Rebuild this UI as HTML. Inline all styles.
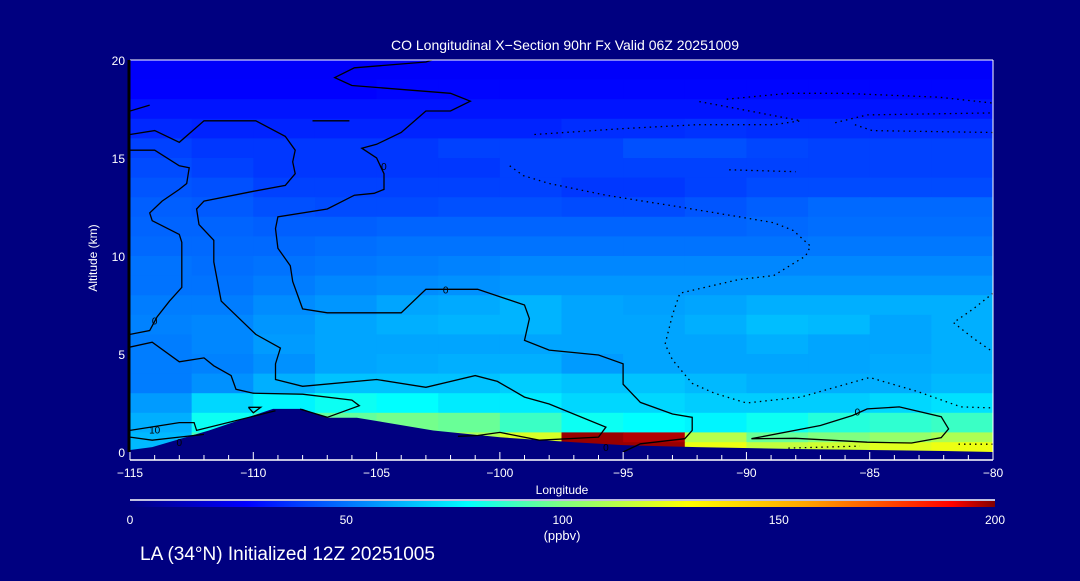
<!DOCTYPE html>
<html><head><meta charset="utf-8"><style>
body{margin:0;background:#000080;}
svg text{font-family:"Liberation Sans",sans-serif;fill:#fff;}
</style></head><body>
<svg id="chart" width="1080" height="576" viewBox="0 0 1080 576" xmlns="http://www.w3.org/2000/svg">
<rect width="1080" height="576" fill="#000080"/>
<defs>
<linearGradient id="cbar" x1="0" x2="1" y1="0" y2="0">
<stop offset="0" stop-color="#000080"/><stop offset="0.135" stop-color="#0000ff"/><stop offset="0.39" stop-color="#00ffff"/><stop offset="0.5" stop-color="#80ff80"/><stop offset="0.645" stop-color="#ffff00"/><stop offset="0.78" stop-color="#ffa500"/><stop offset="0.95" stop-color="#ff0000"/><stop offset="1" stop-color="#800000"/>
</linearGradient>
<clipPath id="plotclip"><rect x="130" y="60" width="863" height="392"/></clipPath>
</defs>
<g id="cells" clip-path="url(#plotclip)"></g>
<g id="terrain"></g>
<g id="contours" clip-path="url(#plotclip)"></g>
<g id="axes"></g>
<text x="565" y="50" font-size="14" text-anchor="middle">CO Longitudinal X−Section 90hr  Fx Valid 06Z 20251009</text>
<text x="562" y="494" font-size="12" text-anchor="middle">Longitude</text>
<text transform="translate(97,258) rotate(-90)" font-size="12" text-anchor="middle">Altitude (km)</text>
<line x1="130" y1="500" x2="995" y2="500" stroke="#fff" stroke-width="1.5"/>
<rect x="130" y="501" width="865" height="6" fill="url(#cbar)"/>
<g id="cbticks"></g>
<text x="562" y="540" font-size="13" text-anchor="middle">(ppbv)</text>
<text x="140" y="560" font-size="19">LA (34°N) Initialized 12Z 20251005</text>
</svg>
<script>
const lonCenters=[-113.75,-111.25,-108.75,-106.25,-103.75,-101.25,-98.75,-96.25,-93.75,-91.25,-88.75,-86.25,-83.75,-81.25];
const altBottoms=[19,18,17,16,15,14,13,12,11,10,9,8,7,6,5,4,3,2,1,0.5,0];
const altTops=[20,19,18,17,16,15,14,13,12,11,10,9,8,7,6,5,4,3,2,1,0.5];
const r0=[26,26,26,26,26,26,26,26,26,26,26,26,26,26];
const r1=[27,27,27,27,28,28,28,28,28,28,28,28,28,28];
const r2=[31,31,31,31,31,31,31,31,31,31,31,31,31,31];
const r3=[35,34,34,34,34,34,34,36,36,37,36,36,36,36];
const r4=[40,38,38,38,38,40,40,40,43,43,41,40,40,40];
const r5=[42,40,38,38,38,38,40,40,40,40,40,40,40,40];
const r6=[44,43,40,40,40,40,40,38,38,40,42,42,42,42];
const r7=[46,45,43,42,42,43,43,42,42,44,46,48,48,48];
const r8=[47,47,46,46,47,47,47,47,47,47,48,49,49,49];
const r9=[48,48,48,49,50,50,50,50,50,50,50,51,51,51];
const r10=[50,49,50,51,52,53,54,54,54,54,54,54,54,54];
const r11=[50,50,52,54,55,56,57,57,57,57,57,57,57,57];
const r12=[52,52,55,57,60,61,63,60,59,60,62,62,62,62];
const r13=[53,54,57,60,62,63,63,60,60,62,65,64,60,62];
const r14=[52,54,58,60,60,60,60,60,60,60,62,60,60,62];
const r15=[52,53,56,60,61,62,62,58,60,60,60,60,61,62];
const r16=[52,56,62,66,66,66,68,66,66,64,62,62,62,64];
const r17=[58,70,76,80,78,74,74,70,70,68,68,68,70,72];
const r18=[62,80,88,95,98,96,88,80,78,76,80,84,86,88];
const r19=[64,90,100,105,108,110,120,198,196,112,96,100,105,110];
const r20=[64,90,100,110,115,120,130,198,198,125,115,118,122,125];
const rows=[r0,r1,r2,r3,r4,r5,r6,r7,r8,r9,r10,r11,r12,r13,r14,r15,r16,r17,r18,r19,r20];
const terrainLon=[-115,-114.1,-111.8,-109.2,-108,-107,-105.8,-102.7,-100,-97,-95,-92,-88,-85,-82,-80];
const terrainAlt=[0.1,0.25,1.1,2.2,2.2,1.75,1.75,1.1,0.75,0.5,0.35,0.25,0.15,0.1,0.05,0];
const xTicks=[-115,-110,-105,-100,-95,-90,-85,-80];
const yTicks=[0,5,10,15,20];
const cbTicks=[0,50,100,150,200];
const solidA=[[-102.5,20.1],[-103,19.9],[-105.9,19.6],[-106.7,19.1],[-106,18.7],[-102,18.3],[-101.2,17.9],[-102,17.4],[-103,17.4],[-104,16.3],[-105,15.7],[-105.6,15.5],[-105,15],[-104.7,14.2],[-104.7,13.4],[-105.1,13.2],[-105.9,13.1],[-107,12.4],[-109,12],[-109.1,11.4],[-109,10.4],[-108.5,9.5],[-108.4,8.7],[-108,7.3],[-107,7.1],[-104,7.1],[-103,8.3],[-100.9,8.3],[-99,7.5],[-98.8,6.8],[-99,5.7],[-98,5.2],[-96,4.95],[-95,4.5],[-95,3.46],[-94.3,2.53],[-93,1.94],[-92.2,1.77],[-92.2,1.1],[-92.5,0.68],[-94.3,0.42],[-95,0]];
const solidB=[[-115,16.2],[-114,16.4],[-113,15.8],[-112,16.9],[-109.9,16.9],[-108.7,16.1],[-108.3,15.4],[-108.4,14.8],[-108.3,14.2],[-108.7,13.6],[-110,13.3],[-112,12.8],[-112.3,12.4],[-112.2,11.6],[-111.6,10.8],[-111.6,9.7],[-111.3,7.7],[-109.9,6],[-108.9,5.3],[-109.1,4.5],[-109.1,3.7],[-108,3.35],[-105,3.7],[-103,3.3],[-101,3.9],[-100.1,3.6],[-99,2.8],[-98,2.45],[-95.7,1.27],[-96,0.76],[-98.4,0.6],[-100,1.0],[-100.9,0.84],[-101.7,0.8]];
const solidC=[[-115,15.4],[-114,15.4],[-113,14.6],[-112.6,14.5],[-112.7,13.7],[-113,13.4],[-113.7,12.8],[-114.2,12.2],[-114.1,11.8],[-113,11.1],[-112.9,10.7],[-112.9,8.4],[-113.4,7.7],[-113.9,6.9],[-114.2,6.2],[-115,6]];
const solidD=[[-115,5.35],[-114.1,5.6],[-113,4.6],[-112,4.8],[-111.6,4.4],[-110.9,3.9],[-110.7,3.2],[-110,3],[-108,2.95],[-106,2.65],[-105.7,2.36],[-107,1.77],[-108.1,2.19]];
const solidE=[[-115,1.1],[-113,1.5],[-112.4,1.5],[-112.3,1.1],[-109.1,2.1]];
const solidE2=[[-115,0.76],[-114.1,0.6],[-113,0.76],[-112,0.9]];
const solidF=[[-89.8,0.68],[-87,1.35],[-85.7,1.86],[-85.1,2.2],[-83.8,2.3],[-82.1,1.8],[-81.8,1.18],[-82.1,0.73],[-83.3,0.46],[-85.1,0.5],[-88,0.7],[-89.8,0.68]];
const solidG=[[-110.2,2.28],[-109.7,2.28],[-110,2.0],[-110.2,2.28]];
const solidH=[[-107.6,16.9],[-106.1,16.9]];
const solidI=[[-115,17.4],[-114.2,17.7]];
const dot1=[[-99.6,14.6],[-99.05,14.1],[-98,13.7],[-95.7,13.1],[-92.7,12.5],[-90.3,12],[-88.9,11.7],[-88.1,11.3],[-87.4,10.5],[-87.6,10],[-88.9,9],[-90.3,8.8],[-92.7,8.1],[-93,7],[-93.3,5.5],[-93,4.7],[-92.2,3.5],[-91.3,3],[-90,2.5],[-87.8,2.8],[-85,3.8],[-83.1,3.1],[-81.3,2.3],[-80,2.25]];
const dot2=[[-98.6,16.2],[-95,16.5],[-92,16.7],[-88.9,16.7],[-87.8,16.9],[-90.3,17.5],[-92,17.9]];
const dot3=[[-90.8,18],[-88.3,18.3],[-86.1,18.3],[-82.2,18.1],[-80,17.8]];
const dot4=[[-86.4,16.8],[-85.1,17.2],[-80,17.3]];
const dot5=[[-85.6,16.7],[-84.9,16.4],[-80,16.3]];
const dot6=[[-90.7,14.4],[-88,14.3]];
const dot7=[[-80,8.1],[-80.8,7.3],[-81.6,6.6],[-80.8,5.8],[-80,5.1]];
const dot8=[[-88.3,0.2],[-85.4,0.3]];
const dot9=[[-81.4,0.4],[-80,0.4]];
const solidLines=[solidA,solidB,solidC,solidD,solidE,solidE2,solidF,solidG,solidH,solidI];
const dottedLines=[dot1,dot2,dot3,dot4,dot5,dot6,dot7,dot8,dot9];
const labelPts=[[-104.7,14.6,"0"],[-102.2,8.3,"0"],[-114,6.7,"0"],[-114,1.15,"10"],[-113,0.5,"0"],[-85.5,2.06,"0"],[-95.7,0.25,"0"]];

const NS="http://www.w3.org/2000/svg";
const X0=130,X1=993,Y0=452,Y1=60;
const xS=l=>X0+(l+115)/35*(X1-X0);
const yS=a=>Y0-a/20*(Y0-Y1);
const stops=[[0,[0,0,128]],[0.135,[0,0,255]],[0.39,[0,255,255]],[0.5,[128,255,128]],[0.645,[255,255,0]],[0.78,[255,165,0]],[0.95,[255,0,0]],[1,[128,0,0]]];
function cmap(v){const t=Math.max(0,Math.min(1,v/200));for(let i=1;i<stops.length;i++){if(t<=stops[i][0]){const a=stops[i-1],b=stops[i];const f=(t-a[0])/(b[0]-a[0]);const c=a[1].map((x,k)=>Math.round(x+(b[1][k]-x)*f));return `rgb(${c[0]},${c[1]},${c[2]})`;}}return "rgb(128,0,0)";}
function mk(tag,attrs,parent){const e=document.createElementNS(NS,tag);for(const k in attrs)e.setAttribute(k,attrs[k]);parent.appendChild(e);return e;}
const cells=document.getElementById('cells');
rows.forEach((row,ri)=>{row.forEach((v,ci)=>{
 const l=lonCenters[ci];
 const x=xS(l-1.25),w=xS(l+1.25)-x+0.6;
 const y=yS(altTops[ri]),h=yS(altBottoms[ri])-y+0.6;
 const r=mk('rect',{x:x,y:y,width:w,height:h,fill:cmap(v)},cells);
 
 
});});
const ter=document.getElementById('terrain');
let d=`M${xS(-115)},${Y0+8}`;terrainLon.forEach((l,i)=>{d+=` L${xS(l)},${yS(terrainAlt[i])}`;});d+=` L${xS(-80)},${Y0+8} Z`;
const tp=mk('path',{d:d,fill:'#000080'},ter);


const con=document.getElementById('contours');
function pathOf(pts){return pts.map((p,i)=>(i?'L':'M')+xS(p[0]).toFixed(1)+','+yS(p[1]).toFixed(1)).join(' ');}
solidLines.forEach(pts=>{const p=mk('path',{d:pathOf(pts),fill:'none',stroke:'#000','stroke-width':1.3},con);
 
 });
dottedLines.forEach(pts=>{const p=mk('path',{d:pathOf(pts),fill:'none',stroke:'#000','stroke-width':1.3,'stroke-dasharray':'1.5 4'},con);
 
 });
labelPts.forEach(p=>{const t=mk('text',{x:xS(p[0]),y:yS(p[1])+4,'font-size':10,'text-anchor':'middle',style:'fill:#000'},con);t.textContent=p[2];
 
 });
const ax=document.getElementById('axes');
mk('line',{x1:X0,y1:Y1,x2:X1,y2:Y1,stroke:'#fff'},ax);
mk('line',{x1:X1,y1:Y1,x2:X1,y2:460,stroke:'#fff'},ax);
mk('line',{x1:X0,y1:460,x2:X1,y2:460,stroke:'#fff','stroke-width':1.5},ax);
mk('line',{x1:X0-1,y1:Y1,x2:X0-1,y2:Y0,stroke:'#000','stroke-width':3},ax);
for(let l=-115;l<=-80;l++){mk('line',{x1:xS(l),y1:460,x2:xS(l),y2:l%5===0?452:455,stroke:'#fff'},ax);}
xTicks.forEach(l=>{const t=mk('text',{x:xS(l),y:477,'font-size':12,'text-anchor':'middle'},ax);t.textContent=String(l).replace('-','−');
 
 });
yTicks.forEach(a=>{const t=mk('text',{x:125,y:yS(a)+5,'font-size':12,'text-anchor':'end'},ax);t.textContent=a;
 
 });
const cb=document.getElementById('cbticks');
cbTicks.forEach(v=>{const t=mk('text',{x:130+v/200*865,y:524,'font-size':12,'text-anchor':'middle'},cb);t.textContent=v;
 
 });
</script>
</body></html>
